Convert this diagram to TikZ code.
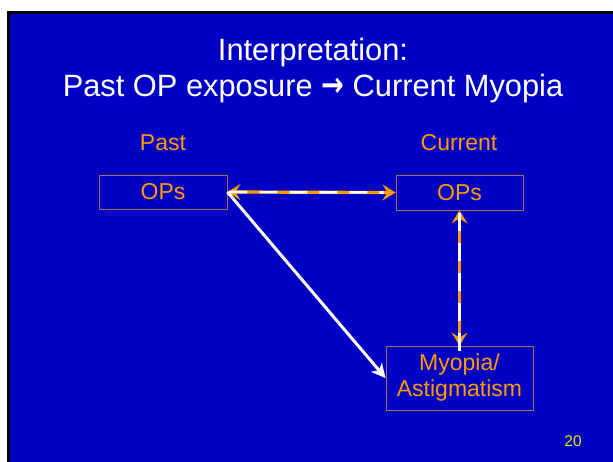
\documentclass[tikz,border=0pt]{standalone}
\usepackage{fontspec}
\setmainfont{Liberation Sans}
\newfontfamily\arrowfont{DejaVu Sans}
\usetikzlibrary{arrows.meta}
\definecolor{slideblue}{HTML}{0000C4}
\definecolor{txtorange}{HTML}{FF9900}
\definecolor{boxedge}{HTML}{A06E50}
\definecolor{numyellow}{HTML}{E8E800}
\tikzset{
  obox/.style={draw=boxedge, line width=0.9pt, text=txtorange, font=\fontsize{23}{27}\selectfont, align=center, inner sep=0pt},
  lbl/.style={text=txtorange, font=\fontsize{23}{27}\selectfont, inner sep=0pt},
  ttl/.style={text=white, font=\fontsize{30.8}{36}\selectfont, inner sep=0pt, anchor=base},
  orangearrow/.style={draw=txtorange, line width=3.2pt, {Stealth[length=13pt,width=16pt,inset=5pt]}-{Stealth[length=13pt,width=16pt,inset=5pt]}},
  whitedash/.style={draw=white, line width=2.6pt, dash pattern=on 18pt off 12pt},
  whitearrow/.style={draw=white, line width=3pt, -{Stealth[length=14pt,width=14pt,inset=4pt]}}
}
\begin{document}
\begin{tikzpicture}[x=1pt,y=-1pt]
\useasboundingbox (0,0) rectangle (613,462);
\fill[white] (0,0) rectangle (613,462);
\fill[black] (7,11) rectangle (613,462);
\fill[slideblue] (10,14) rectangle (613,462);
\node[ttl] (t1) at (313,61) {Interpretation:};
\node[ttl] (t2) at (313,97) {Past OP exposure {\arrowfont\bfseries\fontsize{34}{34}\selectfont\scalebox{0.8}[1]{→}} Current Myopia};
\node[lbl] (lpast) at (163,143) {Past};
\node[lbl] (lcur) at (459,143) {Current};
\node[obox, minimum width=128pt, minimum height=34pt] (past) at (163,192) {OPs};
\node[obox, minimum width=127pt, minimum height=35pt] (cur) at (459.5,192.5) {OPs};
\node[obox, minimum width=147pt, minimum height=64pt] (myo) at (459.5,378) {Myopia/\\[-1pt]Astigmatism};
\node[text=numyellow, font=\fontsize{15.5}{18}\selectfont, inner sep=0pt] (num) at (573,441) {20};
\draw[orangearrow] (past.east) -- (cur.west);
\draw[whitedash] ([xshift=2pt]past.east) -- ([xshift=-12pt]cur.west);
\draw[orangearrow] (cur.south) -- (myo.north);
\draw[whitedash, dash phase=-5pt] ([yshift=2pt]cur.south) -- ([yshift=-12pt]myo.north);
\draw[whitearrow] (past.east) -- (myo.west);
\end{tikzpicture}
\end{document}
